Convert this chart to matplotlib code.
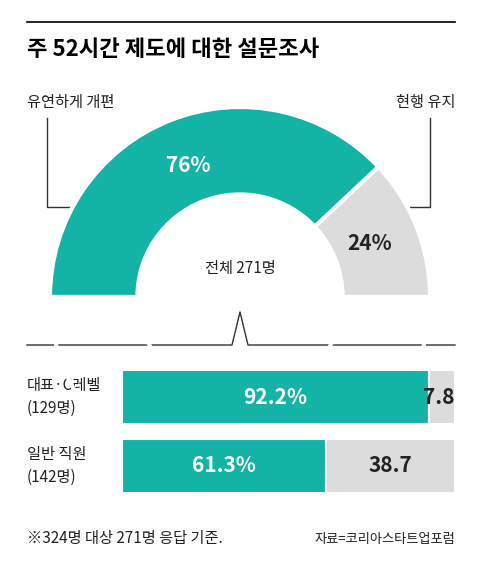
import matplotlib
matplotlib.use("Agg")
import matplotlib.pyplot as plt

plt.rcParams['font.family'] = ['Noto Sans CJK KR', 'DejaVu Sans']

title = "주 52시간 제도에 대한 설문조사"
donut_labels = ["유연하게 개편", "현행 유지"]
donut_values = [76, 24]
total_label = "전체 271명"
groups = ["대표·C레벨\n(129명)", "일반 직원\n(142명)"]
flex = [92.2, 61.3]
keep = [7.8, 38.7]
footnote = "※324명 대상 271명 응답 기준."
source = "자료=코리아스타트업포럼"

teal = "#13b3a6"
gray = "#dcdcdc"
W, H = 480, 566
fig = plt.figure(figsize=(W/100, H/100), dpi=100)

# background axes in pixel coords
bg = fig.add_axes([0, 0, 1, 1])
bg.set_xlim(0, W); bg.set_ylim(H, 0); bg.axis('off')
bg.plot([27, 455], [22, 22], color='black', lw=1.2)
bg.text(27, 50, title, fontsize=16, fontweight='bold', va='center', ha='left')
bg.text(27, 103, donut_labels[0], fontsize=11, va='center', ha='left', color='#222')
bg.text(455, 103, donut_labels[1], fontsize=11, va='center', ha='right', color='#222')
bg.plot([47, 47, 72], [118, 207, 207], color='#333', lw=1)
bg.plot([430, 430, 410], [118, 207, 207], color='#333', lw=1)
bg.plot([27, 232, 240, 248, 455], [345, 345, 312, 345, 345], color='#333', lw=1)
bg.text(240, 268, total_label, fontsize=11, ha='center', va='center', color='#222')
for i, g in enumerate(groups):
    bg.text(27, 397 + 69*i, g, fontsize=11, ha='left', va='center', color='#222', linespacing=1.5)
bg.text(27, 538, footnote, fontsize=11, ha='left', va='center', color='#222')
bg.text(455, 540, source, fontsize=9.5, ha='right', va='center', color='#222')

# donut
R = 190; cx, cy = 240, 297
pax = fig.add_axes([(cx-R)/W, (H-cy-R)/H, 2*R/W, 2*R/H])
pax.pie(donut_values + [sum(donut_values)], startangle=180, counterclock=False,
        colors=[teal, gray, 'none'], radius=1,
        wedgeprops=dict(width=0.46, edgecolor='white', linewidth=3))
pax.wedges = None
pax.set_xlim(-1, 1); pax.set_ylim(-1, 1); pax.set_aspect('auto'); pax.axis('off')
pax.text(-0.27, 0.69, f"{donut_values[0]}%", color='white', fontsize=15, fontweight='bold', ha='center', va='center')
pax.text(0.68, 0.28, f"{donut_values[1]}%", color='#222', fontsize=15, fontweight='bold', ha='center', va='center')

# bars
top, bot = 360, 500
bax = fig.add_axes([122/W, (H-bot)/H, (455-122)/W, (bot-top)/H])
y = list(range(len(groups)))
bax.barh(y, flex, color=teal, height=0.78, edgecolor='white', linewidth=1.5)
bax.barh(y, keep, left=flex, color=gray, height=0.78, edgecolor='white', linewidth=1.5)
bax.set_xlim(0, 100); bax.set_ylim(1 + 34/69, -37/69); bax.axis('off')
for i in y:
    bax.text(flex[i]/2, i, f"{flex[i]}%", color='white', fontsize=15, fontweight='bold', ha='center', va='center')
    xk = flex[i] + keep[i]/2 if keep[i] > 15 else 100 - 0.3
    bax.text(xk, i, f"{keep[i]}", color='#222', fontsize=15, fontweight='bold',
             ha='center' if keep[i] > 15 else 'right', va='center')

fig.savefig("out.png", dpi=100)
